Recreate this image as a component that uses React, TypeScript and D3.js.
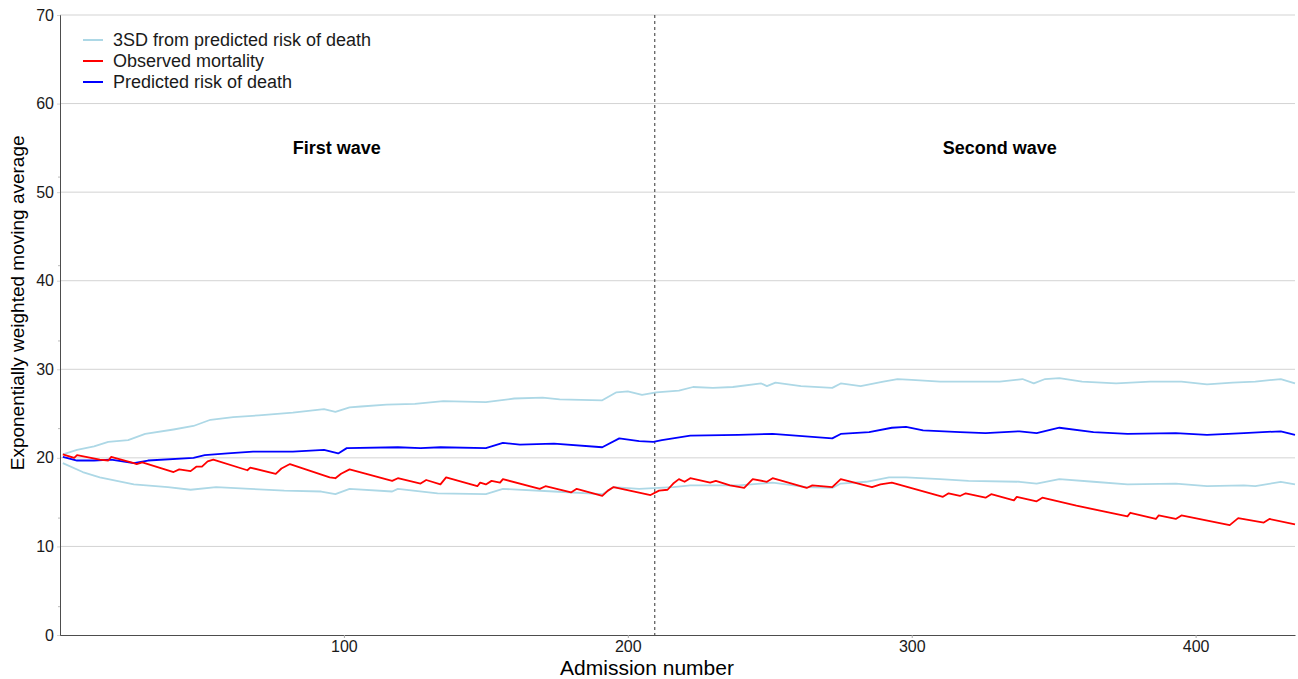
import { useEffect, useRef } from "react";
import * as d3 from "d3";

// [admission number, value]
const upper3sd: [number, number][] = [
  [1, 20.4], [6, 20.9], [12, 21.3], [17, 21.8], [24, 22.0], [30, 22.7], [40, 23.2],
  [47, 23.6], [53, 24.3], [61, 24.6], [70, 24.8], [82, 25.1], [93, 25.5], [97, 25.2],
  [102, 25.7], [106, 25.8], [115, 26.0], [125, 26.1], [135, 26.4], [150, 26.3],
  [160, 26.7], [170, 26.8], [176, 26.6], [191, 26.5], [196, 27.4], [200, 27.5],
  [205, 27.1], [210, 27.4], [218, 27.6], [223, 28.0], [230, 27.9], [237, 28.0],
  [247, 28.4], [249, 28.1], [252, 28.5], [261, 28.1], [272, 27.9], [275, 28.4],
  [282, 28.1], [290, 28.6], [295, 28.9], [300, 28.8], [310, 28.6], [320, 28.6],
  [331, 28.6], [339, 28.9], [343, 28.4], [347, 28.9], [352, 29.0], [360, 28.6],
  [372, 28.4], [384, 28.6], [395, 28.6], [404, 28.3], [413, 28.5], [421, 28.6],
  [430, 28.9], [435, 28.4],
];

const lower3sd: [number, number][] = [
  [1, 19.4], [8, 18.4], [14, 17.8], [26, 17.0], [38, 16.7], [46, 16.4], [55, 16.7],
  [67, 16.5], [79, 16.3], [92, 16.2], [97, 15.9], [102, 16.5], [117, 16.2],
  [119, 16.5], [133, 16.0], [150, 15.9], [156, 16.5], [174, 16.2], [191, 15.9],
  [195, 16.7], [204, 16.5], [216, 16.7], [222, 16.9], [239, 16.9], [251, 17.2],
  [263, 16.7], [272, 16.6], [275, 17.1], [284, 17.3], [292, 17.8], [298, 17.8],
  [310, 17.6], [320, 17.4], [338, 17.3], [344, 17.1], [352, 17.6], [364, 17.3],
  [376, 17.0], [393, 17.1], [404, 16.8], [417, 16.9], [421, 16.8], [430, 17.3],
  [435, 17.0],
];

const observed: [number, number][] = [
  [1, 20.4], [5, 20.0], [6, 20.3], [14, 19.8], [17, 19.7], [18, 20.1], [26, 19.4],
  [27, 19.3], [29, 19.5], [40, 18.4], [42, 18.7], [46, 18.5], [48, 19.0], [50, 19.0],
  [52, 19.6], [54, 19.8], [66, 18.6], [67, 18.9], [76, 18.2], [78, 18.8], [81, 19.3],
  [95, 17.8], [97, 17.7], [99, 18.2], [102, 18.7], [117, 17.4], [119, 17.7],
  [127, 17.1], [129, 17.5], [134, 17.0], [136, 17.8], [147, 16.8], [148, 17.2],
  [150, 17.0], [152, 17.4], [155, 17.2], [156, 17.6], [169, 16.5], [171, 16.8],
  [180, 16.1], [182, 16.5], [191, 15.7], [193, 16.3], [195, 16.7], [208, 15.8],
  [211, 16.3], [214, 16.4], [216, 17.1], [218, 17.6], [220, 17.3], [222, 17.7],
  [229, 17.2], [231, 17.4], [236, 16.9], [241, 16.6], [244, 17.6], [249, 17.3],
  [251, 17.7], [263, 16.6], [265, 16.9], [272, 16.7], [275, 17.6], [286, 16.7],
  [289, 17.0], [293, 17.2], [311, 15.6], [313, 16.0], [317, 15.7], [319, 16.0],
  [326, 15.5], [328, 15.9], [336, 15.2], [337, 15.6], [344, 15.1], [346, 15.5],
  [358, 14.6], [376, 13.4], [377, 13.8], [386, 13.1], [387, 13.5], [393, 13.1],
  [395, 13.5], [412, 12.4], [415, 13.2], [424, 12.7], [426, 13.1], [435, 12.5],
];

const predicted: [number, number][] = [
  [1, 20.1], [6, 19.7], [12, 19.7], [18, 19.8], [26, 19.4], [31, 19.7], [47, 20.0],
  [51, 20.3], [59, 20.5], [68, 20.7], [82, 20.7], [93, 20.9], [98, 20.5], [101, 21.1],
  [119, 21.2], [127, 21.1], [134, 21.2], [150, 21.1], [156, 21.7], [162, 21.5],
  [174, 21.6], [191, 21.2], [197, 22.2], [204, 21.9], [209, 21.8], [212, 22.0],
  [222, 22.5], [239, 22.6], [251, 22.7], [272, 22.2], [275, 22.7], [285, 22.9],
  [293, 23.4], [298, 23.5], [304, 23.1], [317, 22.9], [326, 22.8], [338, 23.0],
  [344, 22.8], [352, 23.4], [364, 22.9], [376, 22.7], [393, 22.8], [404, 22.6],
  [417, 22.8], [430, 23.0], [435, 22.6],
];

const yTicks = [0, 10, 20, 30, 40, 50, 60, 70];
const yMinorTicks = [3.2, 13.2, 23.3, 33.2, 41.7, 51.7];
const xTicks = [100, 200, 300, 400];
const waveSplit = 209.5;
const waveLabels = [
  { n: 97.5, text: "First wave" },
  { n: 331, text: "Second wave" },
];
const legendItems = [
  { label: "3SD from predicted risk of death", color: "#add8e6" },
  { label: "Observed mortality", color: "#ff0000" },
  { label: "Predicted risk of death", color: "#0000ff" },
];

const FONT = "'Liberation Sans', Arial, sans-serif";

export default function App() {
  const svgRef = useRef<SVGSVGElement>(null);

  useEffect(() => {
    document.body.style.margin = "0";
    const el = svgRef.current;
    if (!el) return;
    const svg = d3.select(el);
    svg.selectAll("*").remove();

    const m = { top: 15, right: 3, bottom: 44, left: 60 };
    const W = 1298;
    const H = 679;

    const x = d3.scaleLinear().domain([0, 435]).range([m.left, W - m.right]);
    const y = d3.scaleLinear().domain([0, 70]).range([H - m.bottom, m.top]);

    // grid
    svg
      .append("g")
      .selectAll("line")
      .data(yTicks.filter((d) => d > 0))
      .enter()
      .append("line")
      .attr("x1", x(0))
      .attr("x2", x(435))
      .attr("y1", (d) => y(d))
      .attr("y2", (d) => y(d))
      .attr("stroke", "#d3d3d3")
      .attr("stroke-width", 1);

    // axes
    const yAxis = svg
      .append("g")
      .attr("transform", `translate(${m.left},0)`)
      .call(d3.axisLeft(y).tickValues(yTicks).tickSize(3).tickPadding(3));
    yAxis.select(".domain").attr("stroke", "#4d4d4d");
    yAxis.selectAll(".tick line").attr("stroke", "#d3d3d3");
    yAxis
      .selectAll(".tick text")
      .attr("fill", "#1a1a1a")
      .style("font-size", "16px")
      .style("font-family", FONT);

    svg
      .append("g")
      .selectAll("line")
      .data(yMinorTicks)
      .enter()
      .append("line")
      .attr("x1", m.left - 2)
      .attr("x2", m.left)
      .attr("y1", (d) => y(d))
      .attr("y2", (d) => y(d))
      .attr("stroke", "#bbb");

    const xAxis = svg
      .append("g")
      .attr("transform", `translate(0,${H - m.bottom})`)
      .call(d3.axisBottom(x).tickValues(xTicks).tickSize(3).tickPadding(3).tickSizeOuter(0));
    xAxis.select(".domain").attr("stroke", "#4d4d4d");
    xAxis.selectAll(".tick line").attr("stroke", "#aaa");
    xAxis
      .selectAll(".tick text")
      .attr("fill", "#1a1a1a")
      .style("font-size", "16px")
      .style("font-family", FONT);

    // axis titles
    svg
      .append("text")
      .attr("x", 647)
      .attr("y", 675)
      .attr("text-anchor", "middle")
      .attr("fill", "#000")
      .style("font-size", "21px")
      .style("font-family", FONT)
      .text("Admission number");
    svg
      .append("text")
      .attr("transform", `translate(24,${y(37.5)}) rotate(-90)`)
      .attr("text-anchor", "middle")
      .attr("fill", "#000")
      .style("font-size", "19px")
      .style("font-family", FONT)
      .text("Exponentially weighted moving average");

    // wave split
    svg
      .append("line")
      .attr("x1", x(waveSplit))
      .attr("x2", x(waveSplit))
      .attr("y1", y(70))
      .attr("y2", y(0))
      .attr("stroke", "#333")
      .attr("stroke-width", 1)
      .attr("stroke-dasharray", "3 3");

    svg
      .append("g")
      .selectAll("text")
      .data(waveLabels)
      .enter()
      .append("text")
      .attr("x", (d) => x(d.n))
      .attr("y", y(55) + 6)
      .attr("text-anchor", "middle")
      .attr("fill", "#000")
      .style("font-size", "18px")
      .style("font-weight", "bold")
      .style("font-family", FONT)
      .text((d) => d.text);

    const line = d3
      .line<[number, number]>()
      .x((d) => x(d[0]))
      .y((d) => y(d[1]));

    const series = [
      { data: upper3sd, color: "#add8e6" },
      { data: lower3sd, color: "#add8e6" },
      { data: predicted, color: "#0000ff" },
      { data: observed, color: "#ff0000" },
    ];
    series.forEach((s) => {
      svg
        .append("path")
        .attr("d", line(s.data))
        .attr("fill", "none")
        .attr("stroke", s.color)
        .attr("stroke-width", 1.8)
        .attr("stroke-linejoin", "round");
    });

    // legend
    const lg = svg.append("g").selectAll("g").data(legendItems).enter().append("g")
      .attr("transform", (_d, i) => `translate(83,${40 + i * 21})`);
    lg.append("line")
      .attr("x1", 0)
      .attr("x2", 20)
      .attr("stroke", (d) => d.color)
      .attr("stroke-width", 2);
    lg.append("text")
      .attr("x", 30)
      .attr("y", 6)
      .attr("fill", "#1a1a1a")
      .style("font-size", "18px")
      .style("font-family", FONT)
      .text((d) => d.label);
  }, []);

  return <svg ref={svgRef} width={1298} height={679} style={{ display: "block", background: "#fff" }} />;
}
